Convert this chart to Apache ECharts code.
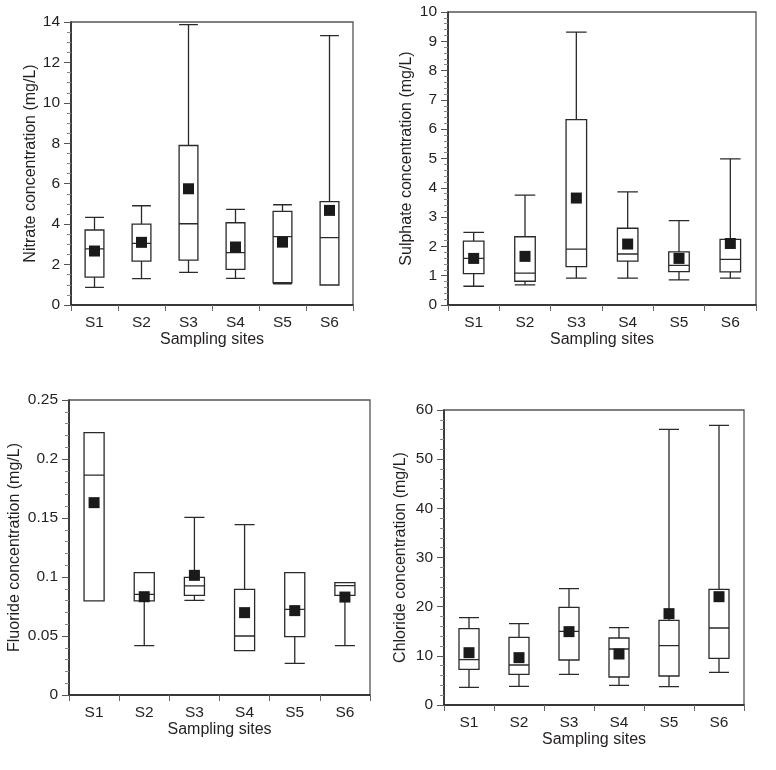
<!DOCTYPE html>
<html>
<head>
<meta charset="utf-8">
<script src="https://cdn.jsdelivr.net/npm/echarts@6/dist/echarts.min.js"></script>
<style>
html,body{margin:0;padding:0;background:#fff;}
#chart{width:776px;height:770px;}
</style>
</head>
<body>
<div id="chart"></div>
<script>
const sites = ['S1','S2','S3','S4','S5','S6'];

// Nitrate (mg/L)
const nitrateMin    = [0.87, 1.30, 1.61, 1.32, 1.05, 0.99];
const nitrateQ1     = [1.38, 2.17, 2.22, 1.76, 1.10, 0.99];
const nitrateMedian = [2.78, 3.05, 4.02, 2.59, 3.38, 3.33];
const nitrateQ3     = [3.71, 4.00, 7.89, 4.07, 4.63, 5.11];
const nitrateMax    = [4.33, 4.91, 13.87, 4.73, 4.96, 13.33];
const nitrateMean   = [2.67, 3.10, 5.75, 2.87, 3.11, 4.68];

// Sulphate (mg/L)
const sulphateMin    = [0.64, 0.69, 0.92, 0.92, 0.86, 0.92];
const sulphateQ1     = [1.07, 0.81, 1.31, 1.50, 1.14, 1.13];
const sulphateMedian = [1.59, 1.09, 1.91, 1.74, 1.35, 1.56];
const sulphateQ3     = [2.18, 2.33, 6.33, 2.62, 1.81, 2.24];
const sulphateMax    = [2.48, 3.75, 9.31, 3.86, 2.88, 4.99];
const sulphateMean   = [1.59, 1.66, 3.65, 2.08, 1.59, 2.10];

// Fluoride (mg/L)
const fluorideMin    = [0.0797, 0.0418, 0.0802, 0.0376, 0.0268, 0.0418];
const fluorideQ1     = [0.0797, 0.0797, 0.0845, 0.0376, 0.0494, 0.0845];
const fluorideMedian = [0.1864, 0.0853, 0.0924, 0.0500, 0.0726, 0.0927];
const fluorideQ3     = [0.2223, 0.1037, 0.0997, 0.0895, 0.1037, 0.0952];
const fluorideMax    = [0.2223, 0.1037, 0.1506, 0.1444, 0.1037, 0.0952];
const fluorideMean   = [0.163, 0.0833, 0.1014, 0.0698, 0.0715, 0.083];

// Chloride (mg/L)
const chlorideMin    = [3.59, 3.80, 6.24, 4.00, 3.73, 6.64];
const chlorideQ1     = [7.25, 6.24, 9.15, 5.69, 5.90, 9.49];
const chlorideMedian = [9.22, 8.14, 14.98, 11.39, 12.07, 15.66];
const chlorideQ3     = [15.53, 13.76, 19.86, 13.63, 17.22, 23.53];
const chlorideMax    = [17.76, 16.54, 23.66, 15.73, 56.07, 56.88];
const chlorideMean   = [10.64, 9.63, 14.92, 10.37, 18.58, 22.03];

const xTitle = 'Sampling sites';
const yTitles = ['Nitrate concentration (mg/L)', 'Sulphate concentration (mg/L)',
                 'Fluoride concentration (mg/L)', 'Chloride concentration (mg/L)'];
const yMax = [14, 10, 0.25, 60];
const yInterval = [2, 1, 0.05, 10];

const panels = [
  [nitrateMin, nitrateQ1, nitrateMedian, nitrateQ3, nitrateMax, nitrateMean],
  [sulphateMin, sulphateQ1, sulphateMedian, sulphateQ3, sulphateMax, sulphateMean],
  [fluorideMin, fluorideQ1, fluorideMedian, fluorideQ3, fluorideMax, fluorideMean],
  [chlorideMin, chlorideQ1, chlorideMedian, chlorideQ3, chlorideMax, chlorideMean]
];

const grids = [
  {left: 71,  top: 22,  width: 282, height: 283},
  {left: 448, top: 12,  width: 308, height: 293},
  {left: 69,  top: 400, width: 301, height: 295},
  {left: 444, top: 410, width: 300, height: 295}
];
const yNameGap = [30, 33, 46, 35];
const ySplit = [4, 5, 5, 5];

const FONT = 'Liberation Sans';
const TXT = '#231f20';

const option = {
  backgroundColor: '#fff',
  animation: false,
  grid: grids.map(g => Object.assign({show: true, borderColor: '#555', borderWidth: 1.3, backgroundColor: 'transparent'}, g)),
  xAxis: grids.map((g, i) => ({
    type: 'category', gridIndex: i, data: sites, boundaryGap: true,
    name: xTitle, nameLocation: 'middle', nameGap: 27,
    nameTextStyle: {fontFamily: FONT, fontSize: 16, color: TXT},
    axisLine: {show: true, lineStyle: {color: '#222', width: 1.5}},
    axisTick: {show: true, length: 6, inside: false, lineStyle: {color: '#666', width: 1}},
    axisLabel: {fontFamily: FONT, fontSize: 15.5, color: TXT, margin: 10},
    splitLine: {show: false}
  })),
  yAxis: grids.map((g, i) => ({
    type: 'value', gridIndex: i, min: 0, max: yMax[i], interval: yInterval[i],
    name: yTitles[i], nameLocation: 'middle', nameGap: yNameGap[i],
    nameTextStyle: {fontFamily: FONT, fontSize: 16, color: TXT},
    axisLine: {show: true, lineStyle: {color: '#222', width: 1.5}},
    axisTick: {show: true, length: 7, inside: false, lineStyle: {color: '#555', width: 1}},
    minorTick: {show: true, splitNumber: ySplit[i], length: 4, lineStyle: {color: '#888', width: 1}},
    axisLabel: {fontFamily: FONT, fontSize: 15.5, color: TXT, margin: 11},
    splitLine: {show: false}
  })),
  series: []
};

panels.forEach((p, i) => {
  const [mn, q1, md, q3, mx, mean] = p;
  option.series.push({
    type: 'boxplot', xAxisIndex: i, yAxisIndex: i,
    boxWidth: ['40%', '40%'],
    itemStyle: {color: 'rgba(255,255,255,0)', borderColor: '#2a2a2a', borderWidth: 1.3},
    data: sites.map((s, k) => [mn[k], q1[k], md[k], q3[k], mx[k]]),
    z: 2
  });
  option.series.push({
    type: 'scatter', xAxisIndex: i, yAxisIndex: i,
    symbol: 'rect', symbolSize: 11,
    itemStyle: {color: '#1a1a1a', opacity: 1},
    data: sites.map((s, k) => [s, mean[k]]),
    z: 3
  });
});

const chart = echarts.init(document.getElementById('chart'), null, {renderer: 'canvas'});
chart.setOption(option);
</script>
</body>
</html>
